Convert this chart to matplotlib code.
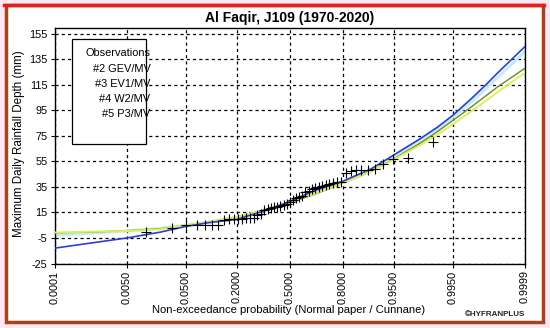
import numpy as np
import matplotlib
matplotlib.use("Agg")
import matplotlib.pyplot as plt
from matplotlib.patches import Rectangle
from matplotlib.lines import Line2D
from statistics import NormalDist

plt.rcParams['font.family'] = ['Liberation Sans', 'DejaVu Sans']

# ---- data ----
title = "Al Faqir, J109 (1970-2020)"
x_ticks = [0.0001, 0.005, 0.05, 0.2, 0.5, 0.8, 0.95, 0.995, 0.9999]
x_tick_labels = ["0.0001", "0.0050", "0.0500", "0.2000", "0.5000", "0.8000", "0.9500", "0.9950", "0.9999"]
y_ticks = [-25, -5, 15, 35, 55, 75, 95, 115, 135, 155]

# observed annual maxima (sorted), plotted with Cunnane positions
obs = [-0.5, 2.5, 5.5, 5.5, 5.5, 5.5, 5.5, 9, 9.5, 10, 10, 10, 10.5, 10.5, 11,
       13, 14, 17, 18, 18.5, 19, 19.5, 20, 21, 22, 23, 25, 26, 27, 28,
       31, 32, 33, 34, 35, 36, 36.5, 37.5, 38, 38.5, 39, 46, 47.5, 48, 48,
       48.5, 49, 53, 57, 57.5, 70.5]

curve_p = [0.0001, 0.001, 0.005, 0.02, 0.05, 0.1, 0.2, 0.35, 0.5, 0.65, 0.8,
           0.9, 0.95, 0.98, 0.99, 0.995, 0.998, 0.999, 0.9995, 0.9999]
gev = [-13, -8.6, -5, -0.5, 4, 7, 9.5, 16.5, 23.5, 32, 39.5, 49, 60, 72.5, 81.5,
       91, 104.5, 114.5, 124.5, 145]
ev1 = [-3, -1, 0.5, 2.5, 5, 7.5, 11, 16.5, 23, 30.5, 39, 48, 59, 71, 80, 89.5,
       102, 111.5, 121, 141]
w2 = [-0.7, 0, 0.5, 1.8, 5, 7.5, 11.5, 17, 23, 29.5, 38, 47, 56.5, 67.5, 75.5,
      84, 94.5, 102, 109.5, 124.5]
p3 = [-1.0, -0.3, 0.7, 2.2, 4.8, 7.5, 11.5, 17, 22.5, 29, 38, 47, 57, 69, 78,
      87, 98, 106, 113.5, 128]

legend_lines = ["Observations", "#2 GEV/MV", "#3 EV1/MV", "#4 W2/MV", "#5 P3/MV"]

# ---- figure ----
W, H = 550, 328
fig = plt.figure(figsize=(W / 100, H / 100), dpi=100)
fig.patch.set_facecolor("#fde8f6")

def fx(px):
    return px / W

def fy(py):
    return 1 - py / H

# white panel with brown border
fig.patches.append(Rectangle((fx(6), fy(322)), fx(543) - fx(6), fy(5) - fy(322),
                             transform=fig.transFigure, facecolor="white",
                             edgecolor="#a4441c", linewidth=2.5, zorder=-5))
fig.lines.append(Line2D([fx(4), fx(544)], [fy(4.5), fy(4.5)], transform=fig.transFigure,
                        color="#e81e1e", linewidth=2.5))

ax = fig.add_axes([fx(54.5), fy(263.5), fx(525) - fx(54.5), fy(28) - fy(263.5)])
ax.set_facecolor("white")

nd = NormalDist()
_fwd = np.vectorize(lambda p: nd.inv_cdf(min(max(p, 1e-12), 1 - 1e-12)), otypes=[float])
_inv = np.vectorize(lambda z: nd.cdf(z), otypes=[float])

def forward(p):
    return _fwd(np.asarray(p, dtype=float))

def inverse(z):
    return _inv(np.asarray(z, dtype=float))

ax.set_xscale('function', functions=(forward, inverse))
ax.set_xlim(0.0001, 0.9999)
ax.set_ylim(-25, 159.5)

ax.set_xticks(x_ticks)
ax.set_xticklabels(x_tick_labels, rotation=90, fontsize=7.8)
ax.set_yticks(y_ticks)
ax.set_yticklabels([str(v) for v in y_ticks], fontsize=7.8)
ax.xaxis.set_minor_locator(matplotlib.ticker.NullLocator())
ax.tick_params(axis='both', length=3, width=0.8, pad=2)

ax.grid(True, color="black", linestyle=(0, (2.5, 2.5)), linewidth=0.9)
for s in ax.spines.values():
    s.set_linewidth(1.0)

# fitted curves
ax.plot(curve_p, ev1, color="#c4ebf6", linewidth=2.2, solid_capstyle='butt', zorder=2)
ax.plot(curve_p, p3, color="#5e8a36", linewidth=1.0, zorder=3)
ax.plot(curve_p, w2, color="#e2ee55", linewidth=1.4, zorder=3.5)
ax.plot(curve_p, gev, color="#2e3fd0", linewidth=1.2, zorder=4)

# observations (Cunnane)
n = len(obs)
ranks = np.arange(1, n + 1)
pp = (ranks - 0.4) / (n + 0.2)
ax.plot(pp, obs, linestyle='none', marker='+', markersize=7, markeredgewidth=0.8,
        color="black", zorder=5)

# legend box
fig.patches.append(Rectangle((fx(72), fy(144)), fx(146) - fx(72), fy(39) - fy(144),
                             transform=fig.transFigure, facecolor="white",
                             edgecolor="black", linewidth=0.9, zorder=5))
legend_y = [53, 69, 84, 99, 114]
for t, yy in zip(legend_lines, legend_y):
    fig.text(fx(150.5), fy(yy), t, ha='right', va='center', fontsize=7.9, zorder=6)

fig.text(fx(290), fy(18), title, ha='center', va='center', fontsize=10,
         fontweight='bold')
fig.text(fx(289), fy(310), "Non-exceedance probability (Normal paper / Cunnane)",
         ha='center', va='center', fontsize=8.1)
fig.text(fx(19), fy(144), "Maximum Daily Rainfall Depth (mm)", ha='center',
         va='center', rotation=90, fontsize=8.4)
fig.text(fx(495), fy(314), "©HYFRANPLUS", ha='center', va='center', fontsize=5.8,
         fontweight='bold', color="#222222")

fig.savefig("out.png", dpi=100, facecolor=fig.get_facecolor())
